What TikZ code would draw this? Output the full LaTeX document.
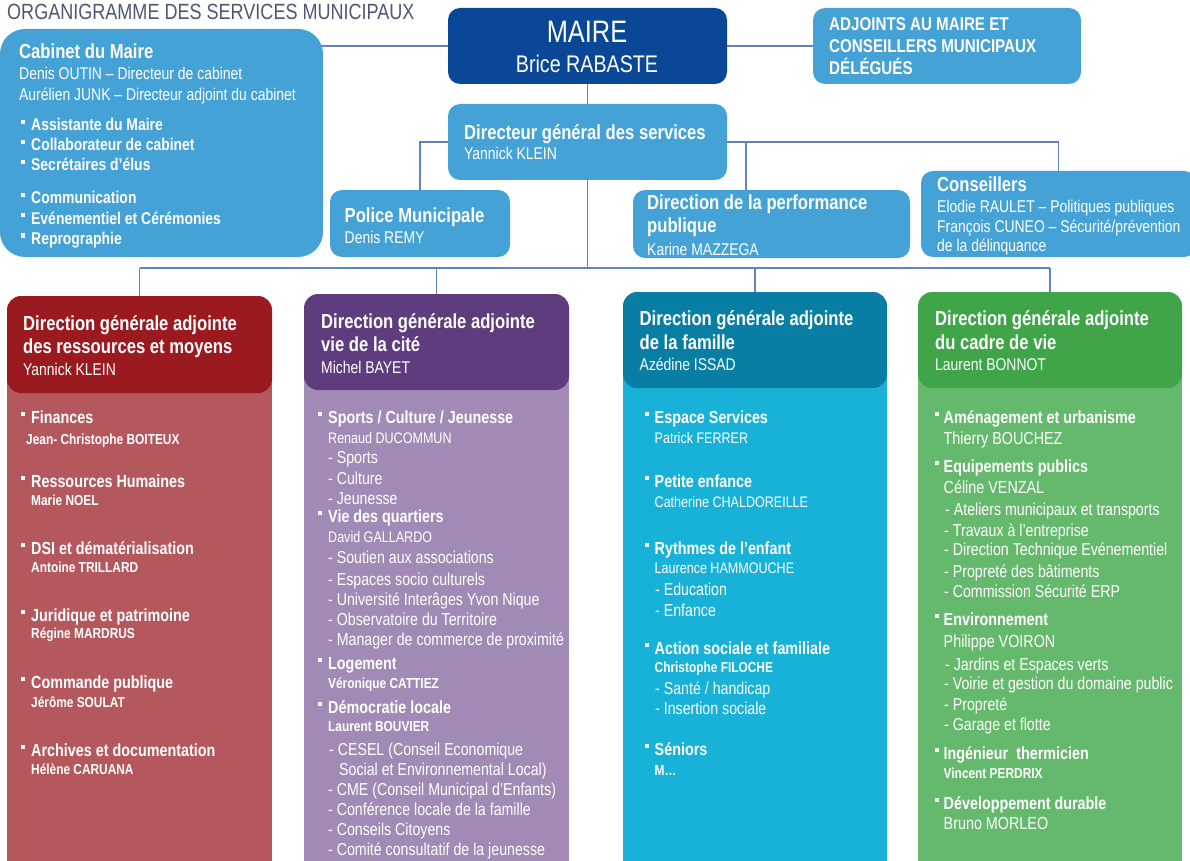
\documentclass[tikz,border=0pt]{standalone}
\usepackage{fontspec}
\setmainfont{Liberation Sans}[FakeStretch=0.82]
\usetikzlibrary{backgrounds}
\definecolor{lblue}{HTML}{45A2D6}
\definecolor{dblue}{HTML}{0B4797}
\definecolor{connc}{HTML}{6283BD}
\definecolor{titlec}{HTML}{4E5776}
\definecolor{redh}{HTML}{9A1A1F}
\definecolor{redb}{HTML}{B4585E}
\definecolor{purh}{HTML}{5F3C7E}
\definecolor{purb}{HTML}{A18BB6}
\definecolor{famh}{HTML}{087EA5}
\definecolor{famb}{HTML}{18B2D9}
\definecolor{grnh}{HTML}{3FA548}
\definecolor{grnb}{HTML}{65B96C}
\newcounter{tc}
\newcommand\tl[4]{\stepcounter{tc}\node[#1, anchor=base west] (t\arabic{tc}) at (#2,#3) {#4};}
\newcommand\bul[1][10pt]{\makebox[#1][l]{\rule[7pt]{4.2pt}{4.2pt}}}
\begin{document}
\begin{tikzpicture}[x=1pt,y=-1pt,
  conn/.style={draw=connc, line width=1.4pt},
  lbox/.style={rectangle, fill=lblue, rounded corners=12pt, inner sep=0pt, outer sep=0pt, anchor=north west, draw=none},
  bodybox/.style={rectangle, inner sep=0pt, outer sep=0pt, anchor=north west, draw=none},
  colh/.style={rectangle, rounded corners=14pt, inner sep=0pt, outer sep=0pt, anchor=north west, draw=none},
  txt/.style={inner sep=0pt, text=white},
  hd/.style={txt, font=\bfseries\fontsize{20.3pt}{24pt}\selectfont},
  adjt/.style={txt, font=\bfseries\fontsize{18.5pt}{22pt}\selectfont},
  nm/.style={txt, font=\fontsize{17pt}{20pt}\selectfont},
  ci/.style={txt, font=\bfseries\fontsize{17pt}{20pt}\selectfont},
  it/.style={txt, font=\bfseries\fontsize{17.5pt}{20pt}\selectfont},
  ds/.style={txt, font=\fontsize{17.3pt}{20pt}\selectfont},
  sm/.style={txt, font=\bfseries\fontsize{14.5pt}{17pt}\selectfont},
  rn/.style={txt, font=\fontsize{15.3pt}{18pt}\selectfont},
  gn/.style={txt, font=\fontsize{17.5pt}{20pt}\selectfont}
]
\useasboundingbox (0,0) rectangle (1190,861);

% title
\node[anchor=base west, inner sep=0pt, text=titlec, font=\fontsize{22pt}{26pt}\selectfont] (title) at (7,19.8) {ORGANIGRAMME DES SERVICES MUNICIPAUX};

% upper boxes
\node[lbox, rounded corners=25pt, minimum width=323pt, minimum height=228pt] (cab) at (0,29) {};
\node[lbox, fill=dblue, minimum width=279pt, minimum height=76pt] (maire) at (448,8) {};
\node[lbox, minimum width=268pt, minimum height=76pt] (adj) at (813,8) {};
\node[lbox, minimum width=279pt, minimum height=76pt] (dgs) at (448,104) {};
\node[lbox, minimum width=180pt, minimum height=67pt] (police) at (330,190) {};
\node[lbox, minimum width=277pt, minimum height=68pt] (perf) at (633,190) {};
\node[lbox, minimum width=275pt, minimum height=86pt] (cons) at (921,171) {};

% columns
\node[bodybox, fill=redb, minimum width=265pt, minimum height=540pt] (bred) at (7,330) {};
\node[colh, fill=redh, minimum width=265pt, minimum height=97pt] (hred) at (7,296) {};
\node[bodybox, fill=purb, minimum width=265pt, minimum height=540pt] (bpur) at (304,330) {};
\node[colh, fill=purh, minimum width=265pt, minimum height=96pt] (hpur) at (304,294) {};
\node[bodybox, fill=famb, minimum width=264pt, minimum height=540pt] (bfam) at (623,330) {};
\node[colh, fill=famh, minimum width=264pt, minimum height=96pt] (hfam) at (623,292) {};
\node[bodybox, fill=grnb, minimum width=264pt, minimum height=540pt] (bgrn) at (918,330) {};
\node[colh, fill=grnh, minimum width=264pt, minimum height=96pt] (hgrn) at (918,292) {};

% connectors (behind the boxes)
\begin{scope}[on background layer]
\fill[white] (0,0) rectangle (1190,861);
\draw[conn] (maire.west) -- (maire.west -| cab.center);
\draw[conn] (maire.east) -- (adj.west);
\draw[conn] (maire.south) -- (dgs.north);
\draw[conn] (dgs.west) -| (police.north);
\draw[conn] (dgs.east) -| (cons.north);
\coordinate (pj) at ([xshift=113pt]perf.north west);
\draw[conn] (pj |- dgs.east) -- (pj);
\coordinate (bus) at (0,268);
\draw[conn] (dgs.south) -- (dgs.south |- bus);
\draw[conn] (hred.north |- bus) -- (hgrn.north |- bus);
\foreach \n in {hred,hpur,hfam,hgrn} \draw[conn] (\n.north |- bus) -- (\n.north);
\end{scope}

% Cabinet
\tl{hd}{19}{58.5}{Cabinet du Maire}
\tl{nm}{19}{80}{Denis OUTIN – Directeur de cabinet}
\tl{nm}{19}{101}{Aurélien JUNK – Directeur adjoint du cabinet}
\tl{ci}{21}{131}{\bul Assistante du Maire}
\tl{ci}{21}{151}{\bul Collaborateur de cabinet}
\tl{ci}{21}{171}{\bul Secrétaires d’élus}
\tl{ci}{21}{204}{\bul Communication}
\tl{ci}{21}{224}{\bul Evénementiel et Cérémonies}
\tl{ci}{21}{244.5}{\bul Reprographie}

% Maire
\node[txt, anchor=base, font=\fontsize{31pt}{34pt}\selectfont] (tmaire) at (587,43) {MAIRE};
\node[txt, anchor=base, font=\fontsize{24pt}{28pt}\selectfont] (tbrice) at (587,73) {Brice RABASTE};

% Adjoints
\tl{adjt}{829}{31}{ADJOINTS AU MAIRE ET}
\tl{adjt}{829}{53}{CONSEILLERS MUNICIPAUX}
\tl{adjt}{829}{74.5}{DÉLÉGUÉS}

% DGS
\tl{hd}{464}{140}{Directeur général des services}
\tl{nm}{464}{160}{Yannick KLEIN}

% Police
\tl{hd}{344.5}{222}{Police Municipale}
\tl{nm}{344.5}{243}{Denis REMY}

% Perf
\tl{hd}{647}{209.5}{Direction de la performance}
\tl{hd}{647}{232.7}{publique}
\tl{nm}{647}{255}{Karine MAZZEGA}

% Conseillers
\tl{hd}{937}{191.7}{Conseillers}
\tl{nm}{937}{212.7}{Elodie RAULET – Politiques publiques}
\tl{nm}{937}{232.3}{François CUNEO – Sécurité/prévention}
\tl{nm}{937}{251.7}{de la délinquance}

% Column headers
\tl{hd}{23}{330}{Direction générale adjointe}
\tl{hd}{23}{353.3}{des ressources et moyens}
\tl{nm}{23}{375}{Yannick KLEIN}
\tl{hd}{321}{328.3}{Direction générale adjointe}
\tl{hd}{321}{351.7}{vie de la cité}
\tl{nm}{321}{373.3}{Michel BAYET}
\tl{hd}{639.5}{325}{Direction générale adjointe}
\tl{hd}{639.5}{349}{de la famille}
\tl{nm}{639.5}{370}{Azédine ISSAD}
\tl{hd}{935}{325}{Direction générale adjointe}
\tl{hd}{935}{349}{du cadre de vie}
\tl{nm}{935}{370}{Laurent BONNOT}

% Red body
\tl{it}{21}{423}{\bul Finances}
\tl{sm}{26}{444.5}{Jean- Christophe BOITEUX}
\tl{it}{21}{487}{\bul Ressources Humaines}
\tl{sm}{31}{505.5}{Marie NOEL}
\tl{it}{21}{554}{\bul DSI et dématérialisation}
\tl{sm}{31}{572.5}{Antoine TRILLARD}
\tl{it}{21}{621}{\bul Juridique et patrimoine}
\tl{sm}{31}{638.5}{Régine MARDRUS}
\tl{it}{21}{688}{\bul Commande publique}
\tl{sm}{31}{707.5}{Jérôme SOULAT}
\tl{it}{21}{756}{\bul Archives et documentation}
\tl{sm}{31}{774.5}{Hélène CARUANA}

% Purple body
\tl{it}{318}{423}{\bul Sports / Culture / Jeunesse}
\tl{rn}{328}{443.5}{Renaud DUCOMMUN}
\tl{ds}{328}{463}{- Sports}
\tl{ds}{328}{484}{- Culture}
\tl{ds}{328}{504}{- Jeunesse}
\tl{it}{318}{522}{\bul Vie des quartiers}
\tl{rn}{328}{542.5}{David GALLARDO}
\tl{ds}{328}{563}{- Soutien aux associations}
\tl{ds}{328}{585}{- Espaces socio culturels}
\tl{ds}{328}{605}{- Université Interâges Yvon Nique}
\tl{ds}{328}{625}{- Observatoire du Territoire}
\tl{ds}{328}{645}{- Manager de commerce de proximité}
\tl{it}{318}{669}{\bul Logement}
\tl{sm}{328}{688.5}{Véronique CATTIEZ}
\tl{it}{318}{713}{\bul Démocratie locale}
\tl{sm}{328}{731.5}{Laurent BOUVIER}
\tl{ds}{329}{755}{- CESEL (Conseil Economique}
\tl{ds}{339}{775}{Social et Environnemental Local)}
\tl{ds}{328}{795}{- CME (Conseil Municipal d'Enfants)}
\tl{ds}{328}{815}{- Conférence locale de la famille}
\tl{ds}{328}{835}{- Conseils Citoyens}
\tl{ds}{328}{855}{- Comité consultatif de la jeunesse}

% Family body
\tl{it}{645}{423}{\bul[9.5pt]Espace Services}
\tl{rn}{654.5}{443.5}{Patrick FERRER}
\tl{it}{645}{487}{\bul[9.5pt]Petite enfance}
\tl{rn}{654.5}{507.5}{Catherine CHALDOREILLE}
\tl{it}{645}{554}{\bul[9.5pt]Rythmes de l’enfant}
\tl{rn}{654.5}{573.5}{Laurence HAMMOUCHE}
\tl{ds}{655}{595}{- Education}
\tl{ds}{655}{616}{- Enfance}
\tl{it}{645}{654}{\bul[9.5pt]Action sociale et familiale}
\tl{sm}{654.5}{672.5}{Christophe FILOCHE}
\tl{ds}{655}{694}{- Santé / handicap}
\tl{ds}{655}{714}{- Insertion sociale}
\tl{it}{645}{755}{\bul[9.5pt]Séniors}
\tl{sm}{654.5}{775.5}{M…}

% Green body
\tl{it}{935}{423}{\bul[8.5pt]Aménagement et urbanisme}
\tl{gn}{943.5}{444}{Thierry BOUCHEZ}
\tl{it}{935}{472}{\bul[8.5pt]Equipements publics}
\tl{gn}{943.5}{493}{Céline VENZAL}
\tl{ds}{945}{515}{- Ateliers municipaux et transports}
\tl{ds}{944}{536}{- Travaux à l’entreprise}
\tl{ds}{944}{555}{- Direction Technique Evénementiel}
\tl{ds}{944}{577}{- Propreté des bâtiments}
\tl{ds}{944}{597}{- Commission Sécurité ERP}
\tl{it}{935}{625}{\bul[8.5pt]Environnement}
\tl{gn}{943.5}{647}{Philippe VOIRON}
\tl{ds}{945}{670}{- Jardins et Espaces verts}
\tl{ds}{944}{689}{- Voirie et gestion du domaine public}
\tl{ds}{944}{710}{- Propreté}
\tl{ds}{944}{730}{- Garage et flotte}
\tl{it}{935}{759}{\bul[8.5pt]Ingénieur~ thermicien}
\tl{sm}{943.5}{778.5}{Vincent PERDRIX}
\tl{it}{935}{809}{\bul[8.5pt]Développement durable}
\tl{gn}{943.5}{829}{Bruno MORLEO}
\end{tikzpicture}
\end{document}
